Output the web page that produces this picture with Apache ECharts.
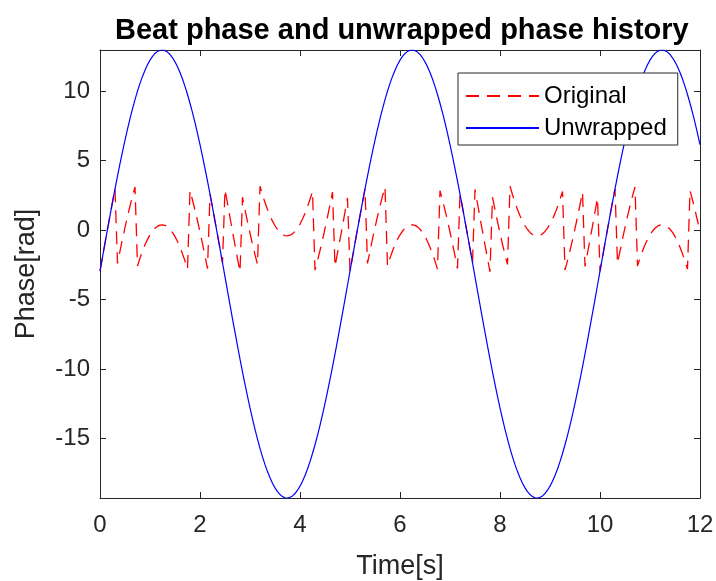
<!DOCTYPE html>
<html>
<head>
<meta charset="utf-8">
<script src="https://cdn.jsdelivr.net/npm/echarts@6/dist/echarts.min.js"></script>
<style>html,body{margin:0;padding:0;background:#fff;}#c{width:716px;height:581px;}</style>
</head>
<body>
<div id="c"></div>
<script>
// Sample times (s)
const time = [
0,0.05,0.1,0.15,0.2,0.25,0.3,0.35,0.4,0.45,0.5,0.55,0.6,0.65,0.7,0.75,0.8,0.85,0.9,0.95,
1,1.05,1.1,1.15,1.2,1.25,1.3,1.35,1.4,1.45,1.5,1.55,1.6,1.65,1.7,1.75,1.8,1.85,1.9,1.95,
2,2.05,2.1,2.15,2.2,2.25,2.3,2.35,2.4,2.45,2.5,2.55,2.6,2.65,2.7,2.75,2.8,2.85,2.9,2.95,
3,3.05,3.1,3.15,3.2,3.25,3.3,3.35,3.4,3.45,3.5,3.55,3.6,3.65,3.7,3.75,3.8,3.85,3.9,3.95,
4,4.05,4.1,4.15,4.2,4.25,4.3,4.35,4.4,4.45,4.5,4.55,4.6,4.65,4.7,4.75,4.8,4.85,4.9,4.95,
5,5.05,5.1,5.15,5.2,5.25,5.3,5.35,5.4,5.45,5.5,5.55,5.6,5.65,5.7,5.75,5.8,5.85,5.9,5.95,
6,6.05,6.1,6.15,6.2,6.25,6.3,6.35,6.4,6.45,6.5,6.55,6.6,6.65,6.7,6.75,6.8,6.85,6.9,6.95,
7,7.05,7.1,7.15,7.2,7.25,7.3,7.35,7.4,7.45,7.5,7.55,7.6,7.65,7.7,7.75,7.8,7.85,7.9,7.95,
8,8.05,8.1,8.15,8.2,8.25,8.3,8.35,8.4,8.45,8.5,8.55,8.6,8.65,8.7,8.75,8.8,8.85,8.9,8.95,
9,9.05,9.1,9.15,9.2,9.25,9.3,9.35,9.4,9.45,9.5,9.55,9.6,9.65,9.7,9.75,9.8,9.85,9.9,9.95,
10,10.05,10.1,10.15,10.2,10.25,10.3,10.35,10.4,10.45,10.5,10.55,10.6,10.65,10.7,10.75,10.8,10.85,10.9,10.95,
11,11.05,11.1,11.15,11.2,11.25,11.3,11.35,11.4,11.45,11.5,11.55,11.6,11.65,11.7,11.75,11.8,11.85,11.9,11.95,
12
];

// Unwrapped phase (rad)
const unwrapped = [
-2.97,-1.96,-0.95,0.05,1.03,2.00,2.95,3.87,4.77,5.63,6.46,7.25,8.00,8.71,9.37,9.98,10.54,11.04,11.49,11.88,
12.21,12.48,12.69,12.84,12.92,12.94,12.89,12.79,12.62,12.38,12.09,11.73,11.32,10.85,10.32,9.74,9.11,8.43,7.71,6.94,
6.13,5.29,4.41,3.51,2.57,1.62,0.64,-0.35,-1.35,-2.36,-3.37,-4.38,-5.39,-6.39,-7.37,-8.34,-9.29,-10.21,-11.11,-11.97,
-12.80,-13.59,-14.34,-15.05,-15.71,-16.32,-16.88,-17.38,-17.83,-18.22,-18.55,-18.82,-19.03,-19.18,-19.26,-19.28,-19.23,-19.13,-18.96,-18.72,
-18.43,-18.07,-17.66,-17.19,-16.66,-16.08,-15.45,-14.77,-14.05,-13.28,-12.47,-11.63,-10.75,-9.85,-8.91,-7.96,-6.98,-5.99,-4.99,-3.98,
-2.97,-1.96,-0.95,0.05,1.03,2.00,2.95,3.87,4.77,5.63,6.46,7.25,8.00,8.71,9.37,9.98,10.54,11.04,11.49,11.88,
12.21,12.48,12.69,12.84,12.92,12.94,12.89,12.79,12.62,12.38,12.09,11.73,11.32,10.85,10.32,9.74,9.11,8.43,7.71,6.94,
6.13,5.29,4.41,3.51,2.57,1.62,0.64,-0.35,-1.35,-2.36,-3.37,-4.38,-5.39,-6.39,-7.37,-8.34,-9.29,-10.21,-11.11,-11.97,
-12.80,-13.59,-14.34,-15.05,-15.71,-16.32,-16.88,-17.38,-17.83,-18.22,-18.55,-18.82,-19.03,-19.18,-19.26,-19.28,-19.23,-19.13,-18.96,-18.72,
-18.43,-18.07,-17.66,-17.19,-16.66,-16.08,-15.45,-14.77,-14.05,-13.28,-12.47,-11.63,-10.75,-9.85,-8.91,-7.96,-6.98,-5.99,-4.99,-3.98,
-2.97,-1.96,-0.95,0.05,1.03,2.00,2.95,3.87,4.77,5.63,6.46,7.25,8.00,8.71,9.37,9.98,10.54,11.04,11.49,11.88,
12.21,12.48,12.69,12.84,12.92,12.94,12.89,12.79,12.62,12.38,12.09,11.73,11.32,10.85,10.32,9.74,9.11,8.43,7.71,6.94,
6.13
];

// Original (wrapped) phase (rad)
const original = [
-2.97,-1.96,-0.95,0.05,1.03,2.00,2.95,-2.41,-1.52,-0.65,0.18,0.97,1.72,2.43,3.09,-2.59,-2.03,-1.52,-1.07,-0.68,
-0.35,-0.08,0.12,0.27,0.35,0.37,0.33,0.22,0.05,-0.18,-0.48,-0.83,-1.25,-1.72,-2.24,-2.82,2.83,2.15,1.43,0.66,
-0.15,-0.99,-1.87,-2.78,2.57,1.62,0.64,-0.35,-1.35,-2.36,2.91,1.90,0.89,-0.10,-1.09,-2.06,-3.01,2.35,1.46,0.59,
-0.24,-1.03,-1.78,-2.48,3.14,2.53,1.97,1.47,1.02,0.63,0.30,0.03,-0.18,-0.33,-0.41,-0.43,-0.38,-0.28,-0.11,0.13,
0.42,0.78,1.19,1.66,2.19,2.77,-2.89,-2.21,-1.48,-0.72,0.09,0.94,1.81,2.72,-2.63,-1.67,-0.70,0.29,1.30,2.30,
-2.97,-1.96,-0.95,0.05,1.03,2.00,2.95,-2.41,-1.52,-0.65,0.18,0.97,1.72,2.43,3.09,-2.59,-2.03,-1.52,-1.07,-0.68,
-0.35,-0.08,0.12,0.27,0.35,0.37,0.33,0.22,0.05,-0.18,-0.48,-0.83,-1.25,-1.72,-2.24,-2.82,2.83,2.15,1.43,0.66,
-0.15,-0.99,-1.87,-2.78,2.57,1.62,0.64,-0.35,-1.35,-2.36,2.91,1.90,0.89,-0.10,-1.09,-2.06,-3.01,2.35,1.46,0.59,
-0.24,-1.03,-1.78,-2.48,3.14,2.53,1.97,1.47,1.02,0.63,0.30,0.03,-0.18,-0.33,-0.41,-0.43,-0.38,-0.28,-0.11,0.13,
0.42,0.78,1.19,1.66,2.19,2.77,-2.89,-2.21,-1.48,-0.72,0.09,0.94,1.81,2.72,-2.63,-1.67,-0.70,0.29,1.30,2.30,
-2.97,-1.96,-0.95,0.05,1.03,2.00,2.95,-2.41,-1.52,-0.65,0.18,0.97,1.72,2.43,3.09,-2.59,-2.03,-1.52,-1.07,-0.68,
-0.35,-0.08,0.12,0.27,0.35,0.37,0.33,0.22,0.05,-0.18,-0.48,-0.83,-1.25,-1.72,-2.24,-2.82,2.83,2.15,1.43,0.66,
-0.15
];

const seriesNames = ['Original', 'Unwrapped'];
const yTicks = [-15, -10, -5, 0, 5, 10];
const yMin = -19.28, yMax = 12.94;
const xMin = 0, xMax = 12, xStep = 2;

const FONT = "'Liberation Sans', Arial, Helvetica, sans-serif";
const AX = '#262626';

const origPairs = time.map((t, i) => [t, original[i]]);
const unwPairs = time.map((t, i) => [t, unwrapped[i]]);

const chart = echarts.init(document.getElementById('c'), null, {renderer: 'canvas', width: 716, height: 581});

function xAxisDef(pos, showLabel, name) {
  return {
    type: 'value', position: pos, min: xMin, max: xMax, interval: xStep,
    axisLine: {show: true, onZero: false, lineStyle: {color: AX, width: 1}},
    axisTick: {show: true, inside: true, length: 6, lineStyle: {color: AX, width: 1}},
    axisLabel: {show: showLabel, fontSize: 24, color: AX, fontFamily: FONT, margin: 15},
    splitLine: {show: false},
    name: name || '', nameLocation: 'middle', nameGap: 55,
    nameTextStyle: {fontSize: 27, color: AX, fontFamily: FONT}
  };
}
function yAxisDef(pos, showLabel, name) {
  return {
    type: 'value', position: pos, min: yMin, max: yMax,
    axisLine: {show: true, onZero: false, lineStyle: {color: AX, width: 1}},
    axisTick: {show: true, inside: true, length: 6, customValues: yTicks, lineStyle: {color: AX, width: 1}},
    axisLabel: {show: showLabel, customValues: yTicks, fontSize: 24, color: AX, fontFamily: FONT, margin: 10},
    splitLine: {show: false},
    name: name || '', nameLocation: 'middle', nameGap: 60, nameRotate: 90,
    nameTextStyle: {fontSize: 27, color: AX, fontFamily: FONT}
  };
}

chart.setOption({
  animation: false,
  backgroundColor: '#ffffff',
  title: {
    text: 'Beat phase and unwrapped phase history',
    left: 110, top: 11,
    textStyle: {fontSize: 29, fontWeight: 'bold', color: '#000', fontFamily: FONT}
  },
  grid: {left: 100, right: 16, top: 50, bottom: 83, containLabel: false, outerBoundsMode: 'none'},
  legend: {
    data: seriesNames,
    orient: 'vertical',
    left: 458, top: 73,
    itemWidth: 73, itemHeight: 14, itemGap: 8,
    padding: [11, 11, 5, 7],
    borderColor: AX, borderWidth: 1, backgroundColor: '#fff', borderRadius: 0,
    itemStyle: {opacity: 0},
    textStyle: {fontSize: 24, color: '#000', fontFamily: FONT}
  },
  xAxis: [xAxisDef('bottom', true, 'Time[s]'), xAxisDef('top', false, '')],
  yAxis: [yAxisDef('left', true, 'Phase[rad]'), yAxisDef('right', false, '')],
  series: [
    {
      name: seriesNames[0], type: 'line', xAxisIndex: 0, yAxisIndex: 0,
      data: origPairs, symbol: 'none', showSymbol: false,
      lineStyle: {color: '#ff0000', width: 1.3, type: [13, 8]},
      itemStyle: {color: '#ff0000'}
    },
    {
      name: seriesNames[1], type: 'line', xAxisIndex: 0, yAxisIndex: 0,
      data: unwPairs, symbol: 'none', showSymbol: false,
      lineStyle: {color: '#0000ff', width: 1.2, type: 'solid'},
      itemStyle: {color: '#0000ff'}
    }
  ]
});
</script>
</body>
</html>
